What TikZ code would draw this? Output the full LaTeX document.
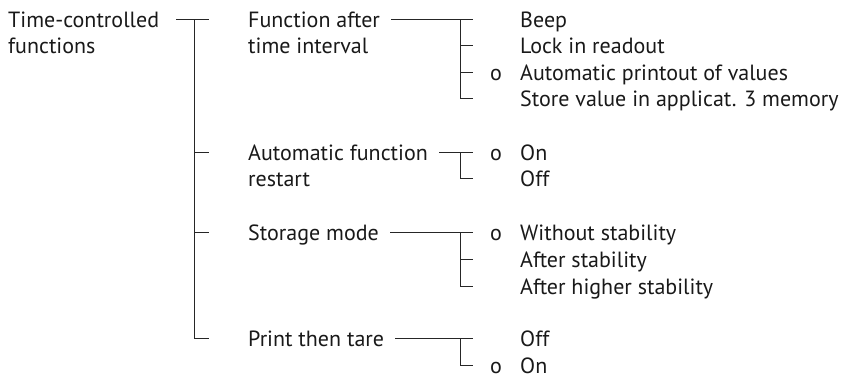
\documentclass[tikz,border=0pt]{standalone}
\usepackage{fontspec}
\setmainfont{PT Sans}
\usetikzlibrary{positioning}
\tikzset{
  tree/.style={black!85,line width=0.9pt},
  item/.style={anchor=west,inner xsep=0pt,inner ysep=0pt,text height=16pt,
               text depth=0pt,text=black!90,font=\fontsize{22}{26}\selectfont},
}

\begin{document}
\begin{tikzpicture}[x=1pt,y=-1pt]
  \path[use as bounding box] (0,0) rectangle (846,378);

  % root
  \node[item] (tc) at (8,19) {Time-controlled};
  \node[item] (tc2) at (8,45) {functions};

  % first level
  \node[item] (fa) at (248,19) {Function after};
  \node[item] (fa2) at (248,45) {time interval};
  \node[item] (af) at (248,152) {Automatic function};
  \node[item] (af2) at (248,178) {restart};
  \node[item] (sm) at (248,232) {Storage mode};
  \node[item] (pt) at (248,338) {Print then tare};

  \coordinate (root) at (194,19);
  \draw[tree] ([xshift=17pt]tc.east) -- ([xshift=-39pt]fa.west);
  \draw[tree] (root) |- ([xshift=-39pt]pt.west);
  \foreach \n in {af,sm}
    \draw[tree] (root |- \n.west) -- ([xshift=-39pt]\n.west);

  % options
  \foreach \n/\y/\txt in {
    fa-a/19/Beep, fa-b/45.5/Lock in readout,
    fa-c/72/Automatic printout of values, fa-d/98.5/Store value in applicat. 3 memory,
    af-a/152/On, af-b/178/Off,
    sm-a/232/Without stability, sm-b/259/After stability, sm-c/286/After higher stability,
    pt-a/338/Off, pt-b/365/On}
    \node[item] (\n) at (520,\y) {\txt};

  % default settings
  \foreach \n in {fa-c,af-a,sm-a,pt-b}
    \node[item] (\n-o) at ([xshift=-30pt]\n.west) {o};

  % second level branches
  \foreach \g/\top/\bot in {fa/fa-a/fa-d, af/af-a/af-b, sm/sm-a/sm-c, pt/pt-a/pt-b}{
    \draw[tree] ([xshift=11pt]\g.east) -- ([xshift=-47pt]\top.west);
    \draw[tree] ([xshift=-60pt]\top.west) |- ([xshift=-47pt]\bot.west);
  }
  \foreach \n in {fa-b,fa-c,sm-b}
    \draw[tree] ([xshift=-60pt]\n.west) -- ([xshift=-47pt]\n.west);
\end{tikzpicture}
\end{document}
